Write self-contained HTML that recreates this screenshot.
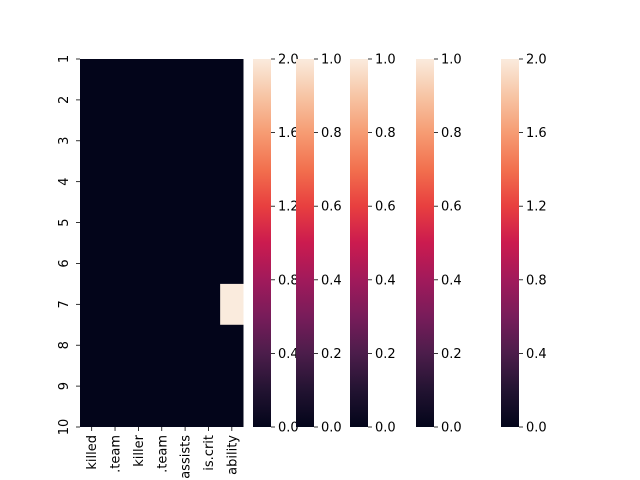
<!DOCTYPE html>
<html><head><meta charset="utf-8"><style>body{margin:0;background:#fff;overflow:hidden}svg{display:block;font-family:"DejaVu Sans","Liberation Sans",sans-serif}</style></head>
<body>
<svg id="c" width="640" height="480">
<defs><linearGradient id="rocket" x1="0" y1="1" x2="0" y2="0">
<stop offset="0" stop-color="#03051a"/><stop offset="0.1" stop-color="#221331"/><stop offset="0.2" stop-color="#4c1d4b"/><stop offset="0.3" stop-color="#781c5a"/><stop offset="0.4" stop-color="#a11a5b"/><stop offset="0.5" stop-color="#cb1b4f"/><stop offset="0.6" stop-color="#e83f3f"/><stop offset="0.7" stop-color="#f2704e"/><stop offset="0.8" stop-color="#f69c73"/><stop offset="0.9" stop-color="#f7c5a5"/><stop offset="1" stop-color="#faebdd"/>
</linearGradient></defs>
</svg>
<script>
const rows=['1','2','3','4','5','6','7','8','9','10'];
const cols=['killed','.team','killer','.team','assists','is.crit','ability'];
const values=[[0,0,0,0,0,0,0],[0,0,0,0,0,0,0],[0,0,0,0,0,0,0],[0,0,0,0,0,0,0],[0,0,0,0,0,0,0],[0,0,0,0,0,0,0],[0,0,0,0,0,0,1],[0,0,0,0,0,0,0],[0,0,0,0,0,0,0],[0,0,0,0,0,0,0]];
const cbMax=[2,1,1,1,2];
const cbTicks=[['0.0','0.4','0.8','1.2','1.6','2.0'],['0.0','0.2','0.4','0.6','0.8','1.0'],['0.0','0.2','0.4','0.6','0.8','1.0'],['0.0','0.2','0.4','0.6','0.8','1.0'],['0.0','0.4','0.8','1.2','1.6','2.0']];
const NS='http://www.w3.org/2000/svg',svg=document.getElementById('c');
function mk(t,a,p){const e=document.createElementNS(NS,t);for(const k in a)e.setAttribute(k,a[k]);(p||svg).appendChild(e);return e;}
const X0=80,X1=243.5,Y0=59,Y1=427;
const cw=(X1-X0)/cols.length, rh=(Y1-Y0)/(rows.length-1);
const xs=i=>X0+cw*(i+0.5), ys=i=>Y0+rh*i;
const bg=mk('rect',{x:X0,y:Y0,width:X1-X0,height:Y1-Y0,fill:'#03051a'});


const rocket=['#03051a','#4c1d4b','#a11a5b','#e83f3f','#f69c73','#faebdd'];
values.forEach((r,i)=>r.forEach((v,j)=>{if(!v)return;
 const y=Math.max(Y0,ys(i)-rh/2),y2=Math.min(Y1,ys(i)+rh/2);
 const c=mk('rect',{x:X0+cw*j,y:y,width:cw,height:y2-y,fill:v>=1?'#faebdd':rocket[Math.round(v*5)]});
 
 
}));
rows.forEach((r,i)=>{const y=ys(i);mk('line',{x1:X0-4,x2:X0,y1:y,y2:y,stroke:'#000','stroke-width':0.8});
 const t=mk('text',{x:0,y:0,'font-size':13,'text-anchor':'middle',transform:`translate(${X0-12},${y}) rotate(-90)`});t.textContent=r;
 
 });
cols.forEach((c,j)=>{const x=xs(j);mk('line',{x1:x,x2:x,y1:Y1,y2:Y1+4,stroke:'#000','stroke-width':0.8});
 const t=mk('text',{x:0,y:0,'font-size':13,'text-anchor':'end',transform:`translate(${x+4.5},${Y1+8}) rotate(-90)`});t.textContent=c;
 
 });
const cbX=[253,296,350,416,501];
cbX.forEach((x,k)=>{const r=mk('rect',{x:x,y:Y0,width:18,height:Y1-Y0,fill:'url(#rocket)'});
 
 
 cbTicks[k].forEach(lbl=>{const y=Y1-(parseFloat(lbl)/cbMax[k])*(Y1-Y0);
  mk('line',{x1:x+18,x2:x+22,y1:y,y2:y,stroke:'#000','stroke-width':0.8});
  const t=mk('text',{x:x+25,y:y+4.5,'font-size':13});t.textContent=lbl;
  
  });});
</script>
</body></html>
